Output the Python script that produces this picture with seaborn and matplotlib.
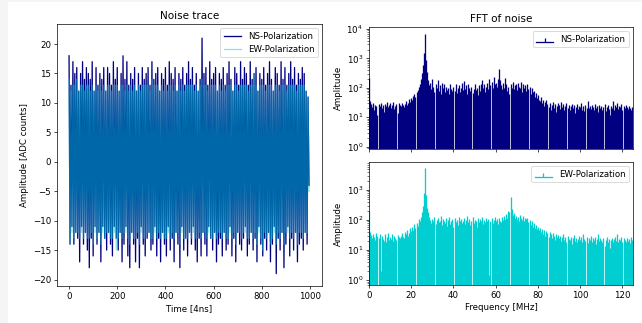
import numpy as np
import matplotlib
matplotlib.use("Agg")
import matplotlib.pyplot as plt
from matplotlib.patches import Rectangle
import seaborn as sns

# ---------------- data ----------------
# noise trace, sampled every 4 samples (time in units of 4 ns)
time = np.arange(0, 1000, 4)

ns_trace = [
    18,-14, 13,-11, 17,-14, 15,-12, 16,-13, 12,-17, 15,-11, 17,-14, 14,-12, 16,-15,
    15,-18, 14,-13, 17,-16, 12,-11, 16,-14, 13,-12, 15,-17, 14,-11, 16,-13, 12,-15,
    16,-12, 15,-14, 13,-16, 17,-11, 14,-13, 16,-15, 12,-12, 15,-17, 18,-14, 14,-11,
    17,-16, 13,-18, 15,-12, 14,-14, 16,-17, 12,-13, 15,-18, 13,-11, 16,-14, 14,-16,
    15,-13, 16,-12, 13,-15, 17,-14, 14,-11, 15,-16, 16,-13, 12,-17, 15,-12, 14,-14,
    16,-16, 13,-11, 17,-15, 15,-13, 14,-17, 16,-12, 12,-14, 15,-18, 14,-11, 16,-15,
    13,-13, 15,-16, 17,-12, 14,-14, 16,-11, 13,-15, 15,-17, 12,-13, 14,-16, 21,-12,
    15,-14, 16,-16, 13,-11, 17,-13, 14,-15, 15,-12, 16,-17, 12,-14, 15,-13, 14,-16,
    16,-12, 13,-15, 15,-14, 17,-11, 14,-16, 12,-13, 16,-17, 15,-12, 13,-14, 17,-15,
    14,-13, 16,-11, 15,-16, 13,-14, 17,-12, 14,-15, 15,-13, 16,-17, 12,-11, 15,-14,
    14,-16, 16,-13, 13,-15, 15,-12, 17,-17, 14,-14, 12,-11, 16,-19, 15,-13, 13,-15,
    17,-12, 14,-18, 16,-14, 13,-11, 15,-16, 17,-13, 14,-15, 16,-12, 13,-17, 15,-14,
    14,-13, 16,-15, 15,-12, 12,-14, 11,-4,
]

ew_trace = [
    14,-14, 12,-12, 13,-13, 13,-12, 14,-12, 12,-13, 13,-12, 13,-13, 12,-12, 13,-13,
    13,-13, 12,-12, 13,-14, 12,-12, 13,-13, 12,-12, 13,-14, 12,-12, 13,-13, 12,-12,
    13,-12, 13,-13, 12,-13, 13,-12, 13,-15, 13,-13, 12,-12, 13,-13, 13,-12, 12,-12,
    13,-13, 12,-14, 13,-12, 12,-13, 13,-13, 12,-12, 13,-14, 12,-12, 13,-13, 13,-13,
    13,-12, 13,-12, 12,-13, 14,-13, 13,-12, 13,-13, 13,-12, 12,-13, 13,-12, 12,-13,
    13,-13, 12,-12, 13,-13, 13,-12, 12,-13, 13,-12, 12,-12, 13,-14, 12,-12, 13,-13,
    12,-13, 13,-13, 13,-12, 13,-13, 13,-12, 12,-13, 13,-13, 12,-12, 13,-13, 14,-12,
    13,-12, 13,-13, 12,-12, 13,-13, 13,-13, 13,-12, 13,-13, 12,-12, 13,-12, 12,-13,
    13,-12, 12,-13, 13,-13, 13,-12, 13,-13, 12,-12, 13,-14, 13,-12, 12,-12, 13,-13,
    13,-12, 13,-12, 13,-13, 12,-13, 13,-12, 13,-13, 15,-12, 13,-14, 12,-12, 13,-13,
    13,-15, 13,-12, 12,-13, 13,-12, 13,-14, 13,-13, 12,-12, 13,-14, 13,-12, 12,-13,
    13,-12, 13,-14, 13,-12, 12,-12, 13,-13, 13,-12, 13,-13, 13,-12, 12,-14, 13,-12,
    13,-12, 13,-13, 13,-12, 12,-12, 11,-5,
]

# FFT amplitude, 0 .. 125 MHz in 0.5 MHz bins
freq = np.linspace(0, 125, 251)

ns_fft = [
    220, 35, 28, 22, 30, 18, 26, 24, 12, 28,
    25, 30, 20, 27, 15, 29, 24, 32, 22, 26,
    30, 21, 27, 33, 19, 25, 28, 14, 30, 26,
    24, 31, 27, 22, 29, 35, 26, 30, 42, 33,
    45, 38, 52, 60, 48, 70, 85, 110, 140, 200,
    320, 600, 1500, 7000, 900, 350, 180, 120, 150, 90,
    200, 110, 70, 130, 95, 180, 80, 120, 60, 150,
    100, 130, 70, 110, 85, 95, 60, 140, 90, 75,
    110, 80, 130, 65, 95, 120, 70, 100, 150, 85,
    170, 90, 120, 60, 140, 100, 75, 110, 65, 90,
    130, 85, 100, 55, 120, 80, 140, 180, 95, 130,
    70, 110, 150, 90, 200, 120, 160, 100, 240, 130,
    150, 110, 200, 450, 180, 120, 90, 150, 100, 220,
    130, 80, 110, 60, 140, 100, 160, 90, 120, 130,
    85, 150, 110, 95, 160, 70, 140, 100, 120, 80,
    130, 90, 110, 60, 95, 70, 80, 50, 65, 45,
    55, 40, 35, 48, 30, 38, 25, 32, 40, 28,
    22, 30, 18, 26, 34, 20, 28, 15, 24, 30,
    26, 19, 32, 22, 28, 17, 25, 30, 21, 27,
    18, 24, 29, 20, 26, 14, 22, 28, 19, 25,
    23, 30, 18, 24, 16, 27, 21, 35, 20, 25,
    19, 26, 22, 17, 28, 21, 24, 15, 27, 20,
    25, 18, 23, 29, 16, 22, 26, 19, 12, 24,
    21, 35, 18, 26, 23, 30, 19, 25, 22, 28,
    17, 24, 20, 27, 22, 19, 25, 21, 18, 23,
    20,
]

ew_fft = [
    200, 40, 32, 25, 35, 28, 22, 38, 30, 26,
    35, 2, 30, 24, 20, 33, 18, 27, 36, 22,
    28, 24, 35, 20, 30, 26, 22, 32, 27, 25,
    30, 36, 28, 25, 40, 33, 45, 30, 38, 55,
    42, 60, 48, 75, 55, 80, 65, 110, 90, 130,
    180, 300, 800, 5500, 700, 250, 180, 130, 100, 80,
    110, 90, 130, 75, 100, 120, 85, 95, 140, 70,
    110, 90, 80, 120, 65, 100, 130, 75, 95, 110,
    60, 120, 85, 100, 70, 130, 90, 110, 80, 95,
    120, 75, 100, 140, 85, 110, 70, 95, 130, 80,
    100, 90, 60, 120, 85, 110, 95, 130, 75, 100,
    85, 120, 90, 105, 1.5, 95, 115, 80, 100, 130,
    90, 110, 75, 120, 95, 85, 130, 100, 140, 110,
    160, 120, 200, 180, 600, 230, 150, 170, 120, 140,
    110, 130, 95, 150, 120, 100, 135, 90, 120, 105,
    115, 85, 100, 70, 95, 60, 80, 55, 70, 50,
    60, 45, 55, 40, 50, 35, 45, 30, 42, 38,
    28, 40, 33, 25, 36, 30, 22, 35, 28, 32,
    26, 30, 20, 28, 33, 22, 27, 19, 30, 24,
    21, 28, 16, 25, 32, 20, 26, 18, 24, 29,
    22, 27, 19, 35, 24, 20, 28, 17, 26, 22,
    30, 19, 25, 21, 27, 16, 24, 35, 20, 26,
    22, 18, 25, 14, 21, 27, 19, 24, 12, 22,
    25, 19, 23, 28, 20, 33, 18, 24, 21, 27,
    19, 25, 22, 18, 26, 20, 24, 17, 28, 22,
    20,
]

labels = ["NS-Polarization", "EW-Polarization"]
ns_color = "navy"
ew_color = "darkturquoise"

# ---------------- figure ----------------
DPI = 62
fig = plt.figure(figsize=(642 / DPI, 323 / DPI), dpi=DPI)
# light page border seen around the reference
fig.patches.append(Rectangle((0, 0), 8 / 642, 1, transform=fig.transFigure,
                             facecolor="#f5f5f5", edgecolor="none", zorder=0))
fig.patches.append(Rectangle((0, 1 - 2 / 323), 1, 2 / 323, transform=fig.transFigure,
                             facecolor="#f5f5f5", edgecolor="none", zorder=0))

ax_tr = fig.add_axes([0.0888, 0.1146, 0.4128, 0.8111])
ax_ns = fig.add_axes([0.5748, 0.5387, 0.4112, 0.3777])
ax_ew = fig.add_axes([0.5748, 0.1176, 0.4112, 0.3809], sharex=ax_ns)

# noise trace
sns.lineplot(x=time, y=ns_trace, color=ns_color, lw=1.5, label=labels[0], ax=ax_tr)
sns.lineplot(x=time, y=ew_trace, color=ew_color, lw=1.5, alpha=0.5, label=labels[1], ax=ax_tr)
ax_tr.set_xlabel("Time [4ns]")
ax_tr.set_ylabel("Amplitude [ADC counts]")
ax_tr.set_title("Noise trace")
ax_tr.set_xticks([0, 200, 400, 600, 800, 1000])
ax_tr.set_yticks([-20, -15, -10, -5, 0, 5, 10, 15, 20])
ax_tr.set_xlim(-50, 1050)
ax_tr.set_ylim(-21.1, 23.4)
ax_tr.legend(loc="upper right")

# FFT panels
for ax, amp, col, lab, ylim in [
    (ax_ns, ns_fft, ns_color, labels[0], (0.83, 11700)),
    (ax_ew, ew_fft, ew_color, labels[1], (0.69, 8500)),
]:
    ax.set_yscale("log")
    st = ax.stem(freq, amp, linefmt="-", markerfmt=" ", basefmt="-", label=lab)
    st.stemlines.set_color(col)
    st.stemlines.set_linewidth(1.5)
    st.baseline.set_color(col)
    ax.set_ylim(*ylim)
    ax.set_ylabel("Amplitude")
    ax.legend(loc="upper right")

ax_ns.set_title("FFT of noise")
ax_ns.set_xlim(0, 125)
ax_ns.set_xticks([0, 20, 40, 60, 80, 100, 120])
ax_ns.tick_params(labelbottom=False)
ax_ew.set_xlabel("Frequency [MHz]")

fig.savefig("out.png", dpi=DPI)
